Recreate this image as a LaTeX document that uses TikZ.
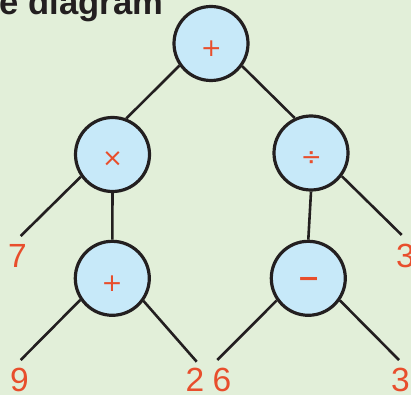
\documentclass[tikz,border=0pt]{standalone}
\usepackage{fontspec}
\setmainfont{Liberation Sans}
\newfontfamily\opfont{DejaVu Sans}
\definecolor{bg}{RGB}{226,239,217}
\definecolor{bubble}{RGB}{199,233,249}
\definecolor{ink}{RGB}{35,31,32}
\definecolor{numred}{RGB}{232,78,44}
\begin{document}
\begin{tikzpicture}[x={(1pt,0)},y={(0,-1pt)},
  opnode/.style={circle,draw=ink,fill=bubble,line width=3.2pt,minimum size=74pt,inner sep=0pt},
  link/.style={draw=ink,line width=2.6pt},
  num/.style={anchor=base,inner sep=0pt,text=numred,font=\fontsize{33.5}{36}\selectfont},
  opsym/.style={inner sep=0pt,text=numred,font=\opfont\fontsize{25}{28}\selectfont},
  opsymb/.style={inner sep=0pt,text=numred,font=\opfont\bfseries\fontsize{27}{30}\selectfont}]
\fill[bg] (0,0) rectangle (411,395);
\useasboundingbox (0,0) rectangle (411,395);
\clip (0,0) rectangle (411,395);

% title (partly cut off)
\node[anchor=base west,inner sep=0pt,text=ink,font=\bfseries\fontsize{34.6}{38}\selectfont] (title) at (-0.5,15) {e diagram};

% operator circles
\node[opnode] (top) at (211,43.5) {};
\node[opnode] (mul) at (112.5,154.5) {};
\node[opnode] (div) at (311,153) {};
\node[opnode] (add) at (112.3,278.3) {};
\node[opnode] (sub) at (308.3,278.3) {};

% operator symbols
\node[opsym] (stop) at (211.3,49) {+};
\node[opsym] (smul) at (112.5,159.3) {×};
\node[opsym] (sdiv) at (311.3,158.3) {÷};
\node[opsym] (sadd) at (112,283.8) {+};
\node[opsymb] (ssub) at (308.7,282) {−};

% numbers
\node[num] (n7) at (17.5,267) {7};
\node[num] (n3a) at (405.5,267) {3};
\node[num] (n9) at (19.5,391) {9};
\node[num] (n2) at (195,391) {2};
\node[num] (n6) at (222,391) {6};
\node[num] (n3b) at (400.5,391) {3};

% free line ends
\coordinate (c7) at (20.7,236);
\coordinate (c3a) at (401.7,235);
\coordinate (c9) at (20.7,360);
\coordinate (c2) at (196.7,361.7);
\coordinate (c6) at (217.3,360);
\coordinate (c3b) at (399,360);

% connectors
\draw[link] (top.215) -- (mul.69);
\draw[link] (top.324) -- (div.115);
\draw[link] (mul.215.6) -- (c7);
\draw[link] (mul.south) -- (add.north);
\draw[link] (div.323) -- (c3a);
\draw[link] (div.south) -- (sub.north);
\draw[link] (add.214.5) -- (c9);
\draw[link] (add.324) -- (c2);
\draw[link] (sub.215) -- (c6);
\draw[link] (sub.325) -- (c3b);
\end{tikzpicture}
\end{document}
